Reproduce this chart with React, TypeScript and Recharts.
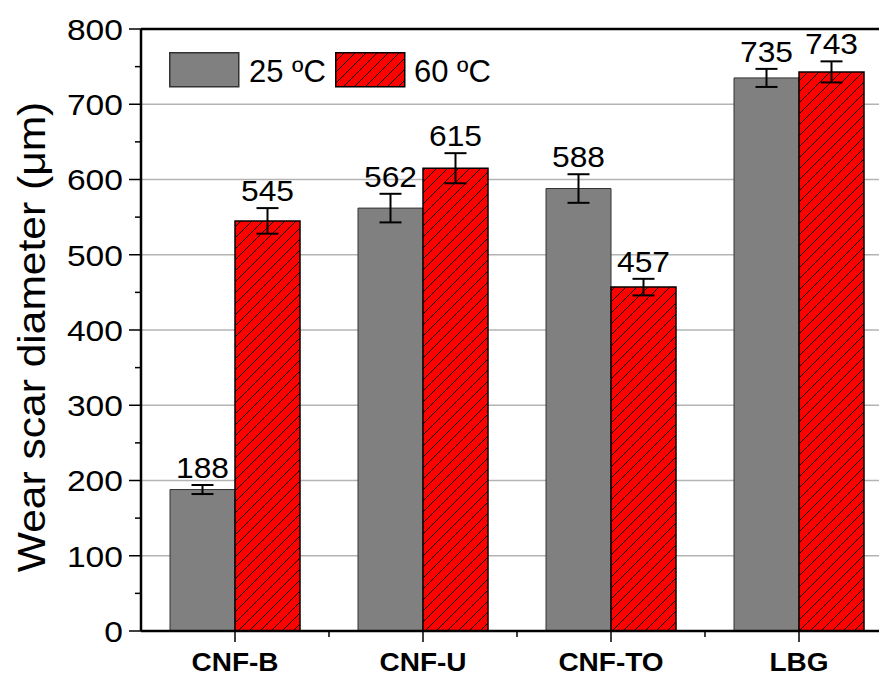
import {
  BarChart,
  Bar,
  XAxis,
  YAxis,
  CartesianGrid,
  ErrorBar,
  LabelList,
  Legend,
  ReferenceLine,
} from "recharts"

const categories = ["CNF-B", "CNF-U", "CNF-TO", "LBG"]
const wear25 = [188, 562, 588, 735]
const wear60 = [545, 615, 457, 743]
const err25 = [6, 19, 19, 12]
const err60 = [17, 20, 11, 14]
const yTicks = [0, 50, 100, 150, 200, 250, 300, 350, 400, 450, 500, 550, 600, 650, 700, 750, 800]
const gridValues = [100, 200, 300, 400, 500, 600, 700]

const data = categories.map((name, i) => ({
  name,
  t25: wear25[i],
  t60: wear60[i],
  e25: err25[i],
  e60: err60[i],
}))

const FONT = "'Liberation Sans', Arial, sans-serif"
const CHART_W = 900
const CHART_H = 675
const MARGIN = { top: 29, right: 7, left: 0, bottom: 0 }
const Y_AXIS_W = 141
const PLOT_W = CHART_W - MARGIN.left - MARGIN.right - Y_AXIS_W
const HALF_BAND = PLOT_W / categories.length / 2
// the figure's sans face runs a bit wider than Liberation Sans
const WIDE = 1.12

function WideText({ x, y, sx = WIDE, rotate = 0, children, ...rest }: any) {
  return (
    <text transform={`translate(${x},${y}) rotate(${rotate}) scale(${sx},1)`} fontFamily={FONT} fill="#000" {...rest}>
      {children}
    </text>
  )
}

function YTick({ x, y, payload }: any) {
  const major = payload.value % 100 === 0
  return (
    <g>
      <line x1={x} x2={x - (major ? 12 : 6)} y1={y} y2={y} stroke="#000" strokeWidth={1.5} />
      {major && (
        <WideText x={x - 18} y={y} dy="0.36em" textAnchor="end" fontSize={30}>
          {payload.value}
        </WideText>
      )}
    </g>
  )
}

function XTick({ x, y, payload }: any) {
  return (
    <g>
      <line x1={x} x2={x} y1={y} y2={y + 11} stroke="#000" strokeWidth={1.5} />
      <line x1={x + HALF_BAND} x2={x + HALF_BAND} y1={y} y2={y + 6} stroke="#000" strokeWidth={1.5} />
      <WideText x={x} y={y + 40} textAnchor="middle" fontSize={25} fontWeight="bold">
        {payload.value}
      </WideText>
    </g>
  )
}

// value label sits just above the error bar cap
function makeValueLabel(errs: number[]) {
  return function ValueLabel({ x, y, width, height, value, index }: any) {
    const perUnit = height / value
    const top = y - errs[index] * perUnit
    return (
      <WideText x={x + width / 2} y={top - 7} sx={1.06} textAnchor="middle" fontSize={30}>
        {value}
      </WideText>
    )
  }
}

function YLabel() {
  return (
    <WideText x={45} y={337} rotate={-90} textAnchor="middle" fontSize={38}>
      Wear scar diameter (μm)
    </WideText>
  )
}

function LegendBox() {
  return (
    <svg width={330} height={40} style={{ overflow: "visible", display: "block" }}>
      <defs>
        <pattern id="hatch-legend" patternUnits="userSpaceOnUse" width={11} height={11}>
          <rect width={11} height={11} fill="#ff0000" />
          <path d="M0,11 L11,0 M-2,2 L2,-2 M9,13 L13,9" stroke="#000" strokeWidth={1} />
        </pattern>
      </defs>
      <rect x={0.75} y={0.75} width={69} height={34} fill="#808080" stroke="#333" strokeWidth={1.5} />
      <text x={80} y={30} fontSize={31} fontFamily={FONT} fill="#000">25 ºC</text>
      <rect x={166.75} y={0.75} width={69} height={34} fill="url(#hatch-legend)" stroke="#000" strokeWidth={1.5} />
      <text x={245} y={30} fontSize={31} fontFamily={FONT} fill="#000">60 ºC</text>
    </svg>
  )
}

export default function App() {
  return (
    <div style={{ position: "absolute", left: 0, top: 0, width: 879, height: 675, overflow: "hidden", background: "#fff" }}>
      <BarChart width={CHART_W} height={CHART_H} data={data} margin={MARGIN} barGap={0} barSize={65}>
        <defs>
          <pattern id="hatch-red" patternUnits="userSpaceOnUse" width={11} height={11}>
            <rect width={11} height={11} fill="#ff0000" />
            <path d="M0,11 L11,0 M-2,2 L2,-2 M9,13 L13,9" stroke="#000" strokeWidth={1} />
          </pattern>
        </defs>
        <CartesianGrid vertical={false} horizontalValues={gridValues} stroke="#b4b4b4" strokeWidth={1.5} />
        <XAxis
          dataKey="name"
          height={44}
          tickSize={0}
          tickMargin={0}
          tickLine={false}
          tick={<XTick />}
          axisLine={{ stroke: "#000", strokeWidth: 2.5 }}
        />
        <YAxis
          width={Y_AXIS_W}
          domain={[0, 800]}
          ticks={yTicks}
          interval={0}
          tickSize={0}
          tickMargin={0}
          tickLine={false}
          tick={<YTick />}
          axisLine={{ stroke: "#000", strokeWidth: 2.5 }}
          label={<YLabel />}
        />
        <ReferenceLine y={800} stroke="#000" strokeWidth={2.5} />
        <Legend
          layout="horizontal"
          verticalAlign="middle"
          align="center"
          wrapperStyle={{ left: 169, top: 52, width: "auto" }}
          content={() => <LegendBox />}
        />
        <Bar dataKey="t25" name="25 ºC" fill="#808080" stroke="#333" strokeWidth={1} isAnimationActive={false}>
          <ErrorBar dataKey="e25" direction="y" width={11} stroke="#000" strokeWidth={2} />
          <LabelList dataKey="t25" content={makeValueLabel(err25)} />
        </Bar>
        <Bar dataKey="t60" name="60 ºC" fill="url(#hatch-red)" stroke="#000" strokeWidth={1.5} isAnimationActive={false}>
          <ErrorBar dataKey="e60" direction="y" width={11} stroke="#000" strokeWidth={2} />
          <LabelList dataKey="t60" content={makeValueLabel(err60)} />
        </Bar>
      </BarChart>
    </div>
  )
}
